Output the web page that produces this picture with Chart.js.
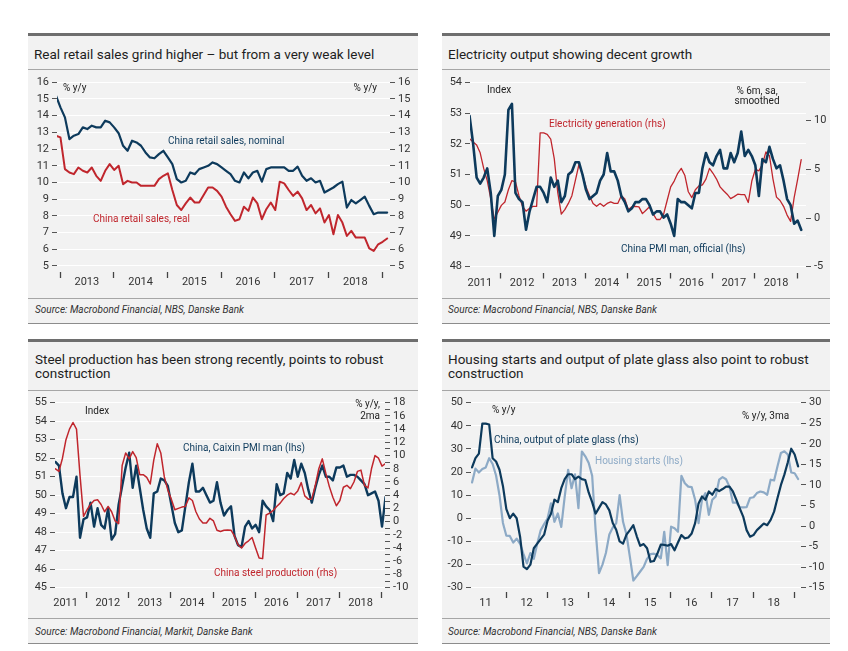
<!DOCTYPE html>
<html><head><meta charset="utf-8">
<script src="https://cdn.jsdelivr.net/npm/chart.js@4.4.1/dist/chart.umd.min.js"></script>
<style>
body{margin:0;background:#fff;width:848px;height:651px;position:relative;overflow:hidden;font-family:Roboto,'DejaVu Sans',sans-serif;}
.panel{position:absolute;background:#f2f2f2;border-top:3px solid #6e6e6e;border-bottom:1.5px solid #8c8c8c;box-sizing:border-box;}
.hline{position:absolute;height:1px;background:#a6a6a6;}
.title{position:absolute;font-size:13.5px;color:#1e1e1e;line-height:14px;white-space:nowrap;}
.src{position:absolute;font-size:10px;font-style:italic;color:#333;white-space:nowrap;line-height:12px;}
.ann{position:absolute;font-size:10px;white-space:nowrap;line-height:10px;color:#222;}
canvas{position:absolute;}
</style></head><body>

<div class="panel" style="left:28px;top:33px;width:390px;height:291px"></div>
<div class="panel" style="left:442px;top:33px;width:388px;height:291px"></div>
<div class="panel" style="left:28px;top:339px;width:390px;height:305px"></div>
<div class="panel" style="left:442px;top:339px;width:388px;height:305px"></div>

<div class="hline" style="left:28px;top:69px;width:390px"></div>
<div class="hline" style="left:442px;top:69px;width:388px"></div>
<div class="hline" style="left:28px;top:298px;width:390px"></div>
<div class="hline" style="left:442px;top:298px;width:388px"></div>
<div class="hline" style="left:28px;top:390px;width:390px"></div>
<div class="hline" style="left:442px;top:390px;width:388px"></div>
<div class="hline" style="left:28px;top:618px;width:390px"></div>
<div class="hline" style="left:442px;top:618px;width:388px"></div>

<div class="title" style="left:34px;top:47px">Real retail sales grind higher – but from a very weak level</div>
<div class="title" style="left:448px;top:47px">Electricity output showing decent growth</div>
<div class="title" style="left:35px;top:352px">Steel production has been strong recently, points to robust<br>construction</div>
<div class="title" style="left:448px;top:352px">Housing starts and output of plate glass also point to robust<br>construction</div>

<div class="src" style="left:35px;top:304px">Source: Macrobond Financial, NBS, Danske Bank</div>
<div class="src" style="left:448px;top:304px">Source: Macrobond Financial, NBS, Danske Bank</div>
<div class="src" style="left:35px;top:626px">Source: Macrobond Financial, Markit, Danske Bank</div>
<div class="src" style="left:448px;top:626px">Source: Macrobond Financial, NBS, Danske Bank</div>

<canvas id="c1" width="390" height="224" style="left:28px;top:72px"></canvas>
<canvas id="c2" width="388" height="224" style="left:442px;top:72px"></canvas>
<canvas id="c3" width="390" height="224" style="left:28px;top:392px"></canvas>
<canvas id="c4" width="388" height="224" style="left:442px;top:392px"></canvas>

<div class="ann" style="left:63px;top:83px">% y/y</div>
<div class="ann" style="right:471px;top:83px">% y/y</div>
<div class="ann" style="left:168px;top:136px;color:#0d3a5c">China retail sales, nominal</div>
<div class="ann" style="left:93px;top:214px;color:#c0262d">China retail sales, real</div>

<div class="ann" style="left:487px;top:85px">Index</div>
<div class="ann" style="left:717px;width:80px;text-align:center;top:86px">% 6m, sa,<br>smoothed</div>
<div class="ann" style="left:549px;top:119px;color:#c0262d">Electricity generation (rhs)</div>
<div class="ann" style="left:621px;top:244px;color:#0d3a5c">China PMI man, official (lhs)</div>

<div class="ann" style="left:85px;top:406px">Index</div>
<div class="ann" style="right:468px;text-align:right;top:398px;line-height:12px">% y/y,<br>2ma</div>
<div class="ann" style="left:183px;top:443px;color:#0d3a5c">China, Caixin PMI man (lhs)</div>
<div class="ann" style="left:214px;top:568px;color:#c0262d">China steel production (rhs)</div>

<div class="ann" style="left:492px;top:405px">% y/y</div>
<div class="ann" style="left:742px;top:411px">% y/y, 3ma</div>
<div class="ann" style="left:494px;top:435px;color:#0d3a5c">China, output of plate glass (rhs)</div>
<div class="ann" style="left:595px;top:456px;color:#8daac6">Housing starts (lhs)</div>

<script>
// ---------- DATA ----------
// Panel 1: China retail sales, % y/y, monthly from Dec 2012
const p1Start = [2012, 12];
const p1Nominal = [15.2,
  14.5, 13.9, 12.6, 12.8, 12.9, 13.3, 13.2, 13.4, 13.3, 13.3, 13.7, 13.6,
  13.3, 12.95, 12.2, 11.9, 12.5, 12.4, 12.2, 11.8, 11.5, 11.45, 11.7, 11.9,
  11.5, 11.1, 10.2, 10.0, 10.1, 10.6, 10.5, 10.8, 10.9, 11.0, 11.2, 11.1,
  10.9, 10.7, 10.5, 10.1, 10.0, 10.6, 10.25, 10.6, 10.7, 10.05, 10.8, 10.9,
  10.9, 10.9, 10.9, 10.7, 10.7, 10.95, 10.4, 10.1, 10.25, 10.0, 10.1, 9.4,
  9.55, 9.7, 9.9, 10.05, 8.5, 8.95, 8.75, 8.95, 9.15, 8.6, 8.1, 8.2,
  8.2, 8.2];
const p1Real = [12.8,
  12.7, 10.8, 10.6, 10.5, 10.9, 10.7, 10.6, 10.9, 10.4, 10.1, 10.7, 11.1,
  10.75, 11.0, 9.9, 10.1, 10.0, 10.0, 9.8, 9.8, 9.8, 9.8, 10.2, 10.4,
  10.55, 9.55, 8.65, 8.35, 8.75, 9.1, 8.8, 8.8, 9.25, 9.7, 9.7, 9.5,
  9.15, 8.55, 8.1, 7.7, 7.8, 8.55, 8.3, 9.1, 8.75, 7.8, 8.4, 8.8,
  8.35, 10.05, 9.95, 9.55, 9.2, 9.45, 9.05, 8.35, 8.65, 8.15, 8.45, 7.6,
  8.05, 6.9, 8.05, 7.6, 6.8, 7.1, 6.7, 6.7, 6.7, 6.05, 5.9, 6.3,
  6.45, 6.65];
const p1Ticks = [5, 6, 7, 8, 9, 10, 11, 12, 13, 14, 15, 16];

// Panel 2: official PMI (lhs) and electricity generation (rhs), monthly from Apr 2011
const p2Start = [2011, 4];
const p2Pmi = [52.9, 52.0, 50.9, 50.7, 50.9, 51.2, 50.4, 49.0, 50.3,
  50.5, 51.0, 53.1, 53.3, 50.4, 50.2, 50.1, 49.2, 49.8, 50.2, 50.6, 50.6,
  50.4, 50.1, 50.9, 50.6, 50.8, 50.1, 50.3, 51.0, 51.1, 51.4, 51.4, 51.0,
  50.5, 50.2, 50.3, 50.4, 50.8, 51.0, 51.7, 51.1, 51.1, 50.8, 50.3, 50.1,
  49.8, 49.9, 50.1, 50.1, 50.2, 50.2, 50.0, 49.7, 49.8, 49.8, 49.6, 49.7,
  49.4, 49.0, 50.2, 50.1, 50.1, 50.0, 49.9, 50.4, 50.4, 51.2, 51.7, 51.4,
  51.3, 51.6, 51.8, 51.2, 51.2, 51.7, 51.4, 51.7, 52.4, 51.6, 51.8, 51.6,
  51.3, 50.3, 51.5, 51.4, 51.9, 51.5, 51.2, 51.3, 50.8, 50.2, 50.0, 49.4,
  49.5, 49.2];
const p2Elec = [8.15, 7.8, 7.5, 6.7, 5.1, 3.85, 2.0, -0.1, 0.6,
  1.3, 1.65, 2.9, 3.85, 3.7, 2.3, 1.2, 0.7, 1.0, 1.2, 1.2, 8.75,
  8.75, 8.6, 8.1, 6.1, 2.6, 0.4, 0.86, 1.5, 2.3, 3.9, 5.5, 4.5,
  3.2, 2.3, 1.5, 1.2, 1.5, 1.2, 1.5, 1.65, 1.5, 1.5, 2.3, 1.97,
  0.86, 1.15, 1.2, 1.15, 0.45, 0.8, 1.15, 0.45, -0.15, -0.15, 0.4, 1.8,
  3.2, 3.8, 4.6, 5.1, 4.4, 2.7, 2.1, 2.9, 3.3, 3.4, 4.0, 5.1,
  4.6, 4.0, 3.2, 2.8, 2.45, 2.0, 2.2, 2.45, 2.4, 2.4, 1.6, 3.8,
  5.0, 4.85, 5.5, 6.8, 6.4, 4.0, 2.15, 1.8, 1.2, 0.3, -0.35, 2.1,
  4.0, 6.0];
const p2LeftTicks = [48, 49, 50, 51, 52, 53, 54];
const p2RightTicks = [-5, 0, 5, 10];

// Panel 3: Caixin PMI (lhs) and steel production (rhs), monthly from Apr 2011
const p3Start = [2011, 4];
const p3Caixin = [51.8, 51.6, 50.1, 49.3, 49.9, 49.9, 51.0, 47.7, 48.7,
  48.8, 49.6, 48.3, 49.3, 48.4, 48.2, 49.3, 47.6, 47.9, 49.5, 50.5, 51.5,
  52.3, 50.4, 51.6, 50.4, 49.2, 48.2, 47.7, 50.1, 50.2, 50.9, 50.8, 50.5,
  49.5, 48.5, 48.0, 48.1, 49.4, 50.7, 51.7, 50.2, 50.2, 50.4, 50.0, 49.6,
  49.7, 50.7, 49.6, 48.9, 49.2, 49.4, 47.8, 47.3, 47.2, 48.3, 48.6, 48.2,
  48.4, 48.0, 49.7, 49.4, 49.2, 48.6, 50.6, 50.0, 50.1, 51.2, 50.9, 51.9,
  51.0, 51.7, 51.2, 50.3, 49.6, 50.4, 51.1, 51.6, 51.0, 51.0, 50.8, 51.5,
  51.5, 51.6, 51.0, 51.1, 51.1, 51.0, 50.8, 50.6, 50.0, 50.1, 50.2, 49.7,
  48.3, 49.9];
const p3Steel = [8.0, 7.6, 9.6, 12.4, 14.0, 15.0, 14.0, 7.0, 0.8,
  1.8, 2.6, 3.2, 3.3, 2.6, 1.5, 2.3, 1.5, 0.1, -0.3, 8.5, 10.4,
  9.5, 10.6, 9.7, 7.1, 7.1, 6.7, 5.7, 9.3, 11.8, 10.4, 6.8, 4.8,
  3.4, 1.8, 2.0, 2.2, 2.3, 3.6, 3.2, 1.5, 0.4, -0.2, -0.2, 0.5,
  0.1, -1.3, -1.5, -1.3, -1.25, -1.3, -2.2, -3.5, -4.0, -3.3, -2.9, -2.4,
  -4.0, -5.5, -5.6, 1.0, 1.3, 1.7, 2.3, 2.8, 3.5, 4.0, 4.3, 4.05,
  4.65, 5.9, 3.9, 3.4, 3.4, 5.5, 8.0, 9.5, 7.3, 5.3, 3.7, 2.4,
  3.2, 5.2, 5.5, 5.0, 6.0, 7.6, 7.8, 5.5, 5.1, 8.0, 10.0, 9.6,
  8.4, 8.8];
const p3LeftTicks = [45, 46, 47, 48, 49, 50, 51, 52, 53, 54, 55];
const p3RightTicks = [-10, -9, -8, -7, -6, -5, -4, -3, -2, -1, 0, 1, 2, 3, 4, 5, 6, 7, 8, 9, 10, 11, 12, 13, 14, 15, 16, 17, 18];

// Panel 4: housing starts (lhs) and plate glass output (rhs), monthly from Mar 2011
const p4Start = [2011, 3];
const p4Housing = [15.5, 21.5, 19.8, 21.3, 22.0, 26.0, 23.5, 18.5, 10.0, -2.0,
  -7.5, -7.6, -10.5, -8.8, -11.0, -15.5, -19.5, -15, -17.5, -11, -5.2, -2.5,
  -0.1, 6.5, -1.5, 2.1, -3.7, 9.4, 21, 13, 19, 4.4, 28.9, 26.8,
  23.9, 18.4, -5, -23.7, -20, -15, -7, -4, -2.2, 10, -1.5, -7,
  -16.8, -26.9, -25, -23, -21, -17.5, -15.5, -15.3, -15.9, -17.3, -5.8, -20.2,
  -3.6, -4.3, -5.8, 18.4, 15.2, 13.7, 13.5, 8.0, -2.1, 8.0, 10.9, 1.5,
  8.0, 9.5, 16.7, 17.8, 16.9, 13.7, 6.8, 6.8, 4.8, 4.7, 4.8, 8.8,
  9.1, 10.9, 11.6, 11.2, 10.2, 16.7, 16.4, 22.5, 28.3, 29.0, 27.6, 19.8,
  19.5, 17.0];
const p4Glass = [14.25, 16.5, 17.6, 24.9, 24.9, 24.7, 16.5, 15.7, 13.7, 9.75,
  4.1, 1.9, 3.0, 1.9, -2.6, -9.9, -10.5, -9.4, -5.4, -4.3, -3.2, -2.1,
  1.3, 3.0, 6.4, 5.8, 9.2, 11.4, 12.6, 12.6, 11.4, 12.0, 11.4, 11.2,
  8.1, 5.8, 3.0, 4.4, 5.8, 5.25, 3.8, 0.75, -0.9, -3.75, -4.3, -2.1,
  -1.0, 0.2, -2.5, -4.8, -4.4, -5.4, -8.7, -8.5, -6.7, -4.5, -4.6, -4.8,
  -4.4, -5.9, -4.0, -2.2, -3.0, -2.8, -1.8, 0.7, 5.5, 7.2, 6.4, 8.4,
  7.6, 9.0, 8.5, 9.0, 9.6, 9.6, 8.4, 6.4, 4.3, 2.3, -1.0, -2.6,
  -2.2, -1.0, -0.2, 0.6, 0.2, 1.5, 3.5, 6.8, 10.0, 12.5, 15.5, 18.8,
  17.4, 14.5];
const p4LeftTicks = [-30, -20, -10, 0, 10, 20, 30, 40, 50];
const p4RightTicks = [-15, -10, -5, 0, 5, 10, 15, 20, 25, 30];

// ---------- STYLE ----------
const NAVY = '#0d3a5c', RED = '#c0262d', LIGHT = '#8daac6';
Chart.defaults.font.family = "Roboto, 'DejaVu Sans', sans-serif";
Chart.defaults.color = '#333';

function series(start, vals) {
  return vals.map((v, i) => ({ x: start[0] + (start[1] - 1 + i + 0.1) / 12, y: v }));
}
function yAxis(pos, min, max, ticks, width, onArea, labelFn) {
  return {
    type: 'linear', position: pos, min: min, max: max,
    border: { display: false },
    grid: { drawOnChartArea: onArea, color: '#ffffff', lineWidth: 1, drawTicks: true,
            tickLength: 5, tickColor: '#555', tickWidth: 1 },
    afterBuildTicks: s => { s.ticks = ticks.map(v => ({ value: v })); },
    ticks: { autoSkip: false, padding: 3, color: '#333', font: { size: 11 },
             callback: labelFn || (v => String(v)) },
    afterFit: s => { s.width = width; }
  };
}
function xAxis(min, max, height, pad, fmt) {
  return {
    type: 'linear', position: 'bottom', min: min, max: max,
    border: { display: false },
    grid: { drawOnChartArea: false, drawTicks: true, tickLength: 6, tickWidth: 1.3,
            tickColor: c => (c.tick && Number.isInteger(c.tick.value)) ? '#444' : 'rgba(0,0,0,0)' },
    afterBuildTicks: s => {
      const t = [];
      for (let k = Math.ceil(min * 2); k <= Math.floor(max * 2); k++) t.push({ value: k / 2 });
      s.ticks = t;
    },
    ticks: { autoSkip: false, maxRotation: 0, minRotation: 0, padding: pad, color: '#333', font: { size: 11 },
             callback: v => Number.isInteger(v) ? '' : fmt(Math.floor(v)) },
    afterFit: s => { s.height = height; }
  };
}
function makeChart(id, datasets, scales, top) {
  return new Chart(document.getElementById(id), {
    type: 'line',
    data: { datasets: datasets },
    options: {
      responsive: false, animation: false, devicePixelRatio: 1,
      layout: { autoPadding: false, padding: { top: top, left: 0, right: 0, bottom: 0 } },
      plugins: { legend: { display: false }, tooltip: { enabled: false } },
      elements: { point: { radius: 0 }, line: { tension: 0, borderJoinStyle: 'round', borderCapStyle: 'round' } },
      scales: scales
    }
  });
}
function ds(data, color, width, axis) {
  return { data: data, borderColor: color, borderWidth: width, yAxisID: axis, fill: false, parsing: true };
}

// Panel 1
makeChart('c1', [
  ds(series(p1Start, p1Nominal), NAVY, 2.2, 'y'),
  ds(series(p1Start, p1Real), RED, 2.0, 'y')
], {
  x: xAxis(2012.944, 2019.145, 24, -2, y => String(y)),
  y: yAxis('left', 4.64, 16, p1Ticks, 29, true),
  y2: yAxis('right', 4.64, 16, p1Ticks, 28, false)
}, 10.3);

// Panel 2
makeChart('c2', [
  ds(series(p2Start, p2Pmi), NAVY, 2.6, 'y'),
  ds(series(p2Start, p2Elec), RED, 1.3, 'y2')
], {
  x: xAxis(2011.268, 2019.205, 23.5, -2, y => String(y)),
  y: yAxis('left', 47.811, 54, p2LeftTicks, 28, true),
  y2: yAxis('right', -5.596, 13.945, p2RightTicks, 24, false)
}, 10.3);

// Panel 3
makeChart('c3', [
  ds(series(p3Start, p3Steel), RED, 1.5, 'y2'),
  ds(series(p3Start, p3Caixin), NAVY, 2.4, 'y')
], {
  x: xAxis(2011.248, 2019.079, 24, -1, y => String(y)),
  y: yAxis('left', 44.768, 55, p3LeftTicks, 27, true),
  y2: yAxis('right', -10.65, 18, p3RightTicks, 33, false, v => (v % 2 === 0 ? String(v) : ''))
}, 10.7);

// Panel 4
makeChart('c4', [
  ds(series(p4Start, p4Glass), NAVY, 2.2, 'y2'),
  ds(series(p4Start, p4Housing), LIGHT, 2.2, 'y')
], {
  x: xAxis(2011.150, 2019.162, 24, -1, y => String(y).slice(2)),
  y: yAxis('left', -31.86, 50, p4LeftTicks, 29, true),
  y2: yAxis('right', -16.05, 30, p4RightTicks, 29, false)
}, 10.7);
</script>
</body></html>
